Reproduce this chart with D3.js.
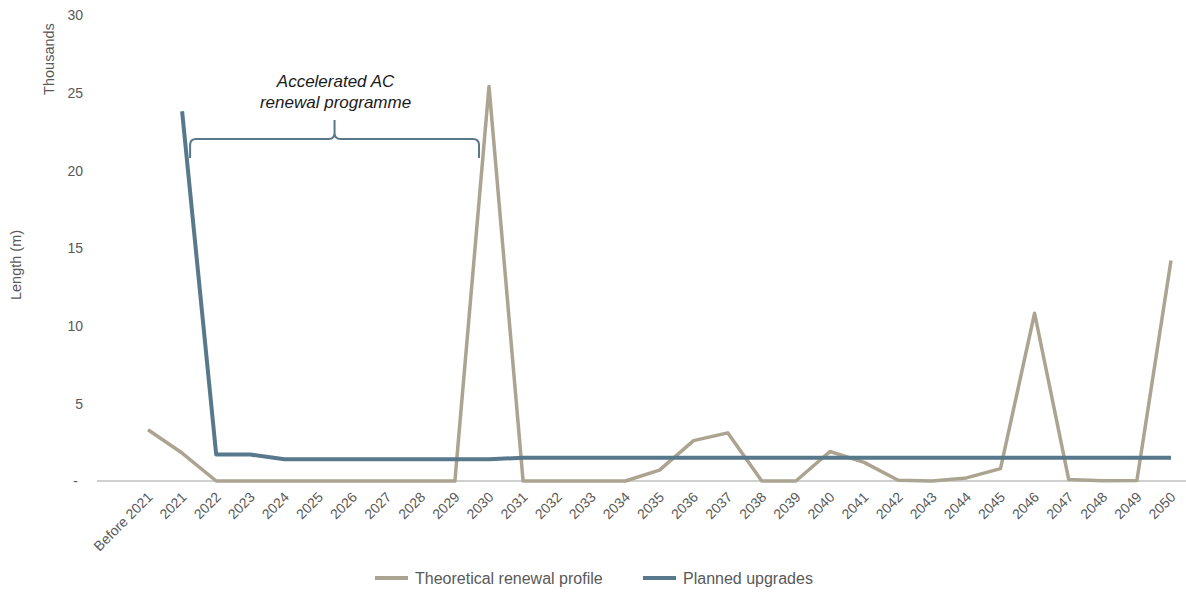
<!DOCTYPE html>
<html>
<head>
<meta charset="utf-8">
<script src="https://cdn.jsdelivr.net/npm/d3@7"></script>
<style>
  body { margin: 0; background: #fff; }
  text { font-family: "Liberation Sans", Arial, sans-serif; fill: #595959; }
</style>
</head>
<body>
<div id="chart"></div>
<script>
// categories along the x axis
const years = ["Before 2021", "2021", "2022", "2023", "2024", "2025", "2026", "2027", "2028", "2029", "2030",
    "2031", "2032", "2033", "2034", "2035", "2036", "2037", "2038", "2039", "2040",
    "2041", "2042", "2043", "2044", "2045", "2046", "2047", "2048", "2049", "2050"];

// thousands of metres
const theoretical = [3.3, 1.8, 0, 0, 0, 0, 0, 0, 0, 0, 25.4,
    0, 0, 0, 0, 0.7, 2.6, 3.1, 0, 0, 1.9,
    1.2, 0.05, 0, 0.2, 0.8, 10.8, 0.1, 0.02, 0.03, 14.2];

// null = no value for that year
const planned = [null, 23.8, 1.7, 1.7, 1.4, 1.4, 1.4, 1.4, 1.4, 1.4, 1.4,
    1.5, 1.5, 1.5, 1.5, 1.5, 1.5, 1.5, 1.5, 1.5, 1.5,
    1.5, 1.5, 1.5, 1.5, 1.5, 1.5, 1.5, 1.5, 1.5, 1.5];

const yTicks = [0, 5, 10, 15, 20, 25, 30];
const seriesNames = ["Theoretical renewal profile", "Planned upgrades"];
const colors = ["#aba490", "#58788b"];

const width = 1186;
const height = 592;

const svg = d3.select("#chart")
    .append("svg")
    .attr("width", width)
    .attr("height", height);

const xScale = d3.scalePoint()
    .domain(years)
    .range([148, 1171]);

const yScale = d3.scaleLinear()
    .domain([0, 30])
    .range([481, 15]);

// y axis labels, no line
const yAxis = d3.axisLeft(yScale)
    .tickValues(yTicks)
    .tickSize(0)
    .tickPadding(0)
    .tickFormat(function (d) { return d === 0 ? "-" : d; });

svg.append("g")
    .attr("class", "yAxis")
    .attr("transform", "translate(83, 0)")
    .call(yAxis)
    .call(g => g.select(".domain").remove())
    .selectAll("text")
    .style("font-size", "14px")
    .style("fill", "#595959")
    .attr("dy", "0.35em")
    .attr("dx", function (d) { return d === 0 ? -5 : 0; });

// baseline
svg.append("line")
    .attr("x1", 97)
    .attr("x2", 1186)
    .attr("y1", yScale(0))
    .attr("y2", yScale(0))
    .attr("stroke", "#bfbfbf")
    .attr("stroke-width", 1.5);

// x axis labels rotated
const xAxis = d3.axisBottom(xScale)
    .tickSize(0)
    .tickPadding(0);

svg.append("g")
    .attr("class", "xAxis")
    .attr("transform", "translate(0, " + yScale(0) + ")")
    .call(xAxis)
    .call(g => g.select(".domain").remove())
    .selectAll("text")
    .style("font-size", "14px")
    .style("fill", "#595959")
    .style("text-anchor", "end")
    .attr("dy", "0")
    .attr("y", 0)
    .attr("transform", "translate(5, 17) rotate(-45)");

// axis titles
svg.append("text")
    .attr("transform", "translate(54, 59) rotate(-90)")
    .style("text-anchor", "middle")
    .style("font-size", "14.5px")
    .text("Thousands");

svg.append("text")
    .attr("transform", "translate(21, 265) rotate(-90)")
    .style("text-anchor", "middle")
    .style("font-size", "14.5px")
    .text("Length (m)");

// lines
function drawLine(values, color, strokeWidth) {
    const line = d3.line()
        .defined(function (d) { return d !== null; })
        .x(function (d, i) { return xScale(years[i]); })
        .y(function (d) { return yScale(d); });

    svg.append("path")
        .datum(values)
        .attr("fill", "none")
        .attr("stroke", color)
        .attr("stroke-width", strokeWidth)
        .attr("stroke-linejoin", "round")
        .attr("d", line);
}

drawLine(theoretical, colors[0], 3.5);
drawLine(planned, colors[1], 4);

// brace annotation over the accelerated programme years
const braceLeft = xScale("2021") + 8;
const braceRight = xScale("2030") - 10;
const braceMid = (braceLeft + braceRight) / 2;
const braceY = 139;
const r = 6;
const bracePath = "M" + braceLeft + "," + (braceY + 19) +
    " L" + braceLeft + "," + (braceY + r) +
    " Q" + braceLeft + "," + braceY + " " + (braceLeft + r) + "," + braceY +
    " L" + (braceMid - r) + "," + braceY +
    " Q" + braceMid + "," + braceY + " " + braceMid + "," + (braceY - r) +
    " L" + braceMid + "," + (braceY - 19) +
    " M" + braceMid + "," + (braceY - r) +
    " Q" + braceMid + "," + braceY + " " + (braceMid + r) + "," + braceY +
    " L" + (braceRight - r) + "," + braceY +
    " Q" + braceRight + "," + braceY + " " + braceRight + "," + (braceY + r) +
    " L" + braceRight + "," + (braceY + 19);

svg.append("path")
    .attr("d", bracePath)
    .attr("fill", "none")
    .attr("stroke", "#58788b")
    .attr("stroke-width", 2);

const note = svg.append("text")
    .attr("x", braceMid + 1)
    .attr("y", 87)
    .style("text-anchor", "middle")
    .style("font-size", "17px")
    .style("font-style", "italic")
    .style("fill", "#1a1a1a");
note.append("tspan").attr("x", braceMid + 1).attr("y", 87).text("Accelerated AC");
note.append("tspan").attr("x", braceMid + 1).attr("y", 108).text("renewal programme");

// legend
const legendX = [375, 643];
const legend = svg.append("g").attr("class", "legend");
seriesNames.forEach(function (name, i) {
    legend.append("line")
        .attr("x1", legendX[i])
        .attr("x2", legendX[i] + 33)
        .attr("y1", 578)
        .attr("y2", 578)
        .attr("stroke", colors[i])
        .attr("stroke-width", 4);
    legend.append("text")
        .attr("x", legendX[i] + 40)
        .attr("y", 584)
        .style("font-size", "16px")
        .text(name);
});
</script>
</body>
</html>
